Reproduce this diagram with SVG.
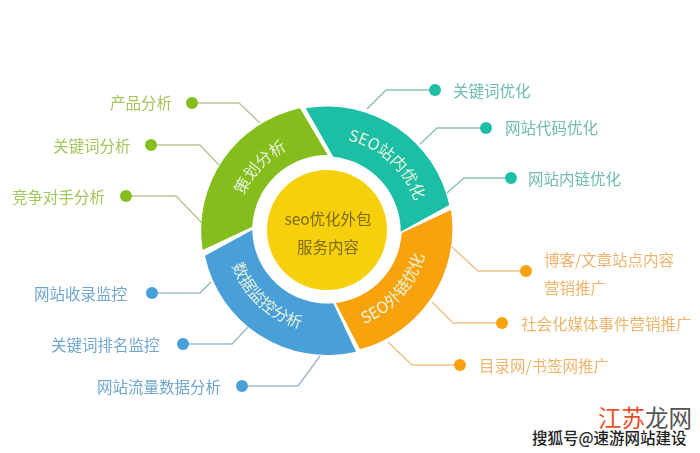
<svg xmlns="http://www.w3.org/2000/svg" width="700" height="453" viewBox="0 0 700 453">
<style>
text{font-family:"Noto Sans CJK SC","Liberation Sans",sans-serif;font-size:15.5px;dominant-baseline:central}
.c{fill:none;stroke-width:1.6}
.g{fill:#a3c65c}.gd{fill:#84bd1e}.gl{stroke:#b9c99c}
.t{fill:#6fbcb0}.td{fill:#1cbfa6}.tl{stroke:#8cc4ba}
.o{fill:#f0b56c}.od{fill:#f8a20a}.ol{stroke:#eec58c}
.b{fill:#6fa6d0}.bd{fill:#4a9fd8}.bl{stroke:#a3bccb}
.a{fill:#e6f3dc;font-size:16px;dominant-baseline:alphabetic}
.m{fill:#7d6a10;text-anchor:middle}
</style>
<defs>
<filter id="s" x="-5%" y="-5%" width="110%" height="110%"><feGaussianBlur stdDeviation="0.45"/></filter>
<path id="pg" d="M237 233.4A91 91 0 0 1 324.6 140"/>
<path id="pt" d="M300.3 141.9A93 93 0 0 1 417.5 252.4"/>
<path id="po" d="M309.6 330.5A102 102 0 0 0 421.9 196.3"/>
<path id="pb" d="M228.5 208.6A101 101 0 0 0 356.9 327.5"/>
</defs>
<rect width="700" height="453" fill="#fff"/>
<g id="connectors" filter="url(#s)">
<path class="c gl" d="M192 103H239L260 123"/>
<path class="c gl" d="M151 145H200L219 165"/>
<path class="c gl" d="M126 196H176L202 223"/>
<path class="c bl" d="M152 293H200L211 282"/>
<path class="c bl" d="M183 344H232L248 327"/>
<path class="c bl" d="M242 386H298L320 356"/>
<path class="c tl" d="M435 90H386L367 109"/>
<path class="c tl" d="M486 128H437L420 144"/>
<path class="c tl" d="M511 178H464L447 193"/>
<path class="c ol" d="M526 271H478L452 247"/>
<path class="c ol" d="M502 323H453L432 302"/>
<path class="c ol" d="M460 365H412L388 342"/>
</g>
<g filter="url(#s)">
<g id="seg-plan"><path class="gd" d="M300 108.3A125 125 0 0 0 202.7 250L252.3 226.7A75 75 0 0 1 327.7 155Z"/><text class="a" text-anchor="middle"><textPath href="#pg" startOffset="50%">策划分析</textPath></text></g>
<g id="seg-onsite"><path class="td" d="M305.7 108.3A125 125 0 0 1 449.3 205L400.7 231.7A75 75 0 0 0 333.3 156.7Z"/><text class="a" text-anchor="middle"><textPath href="#pt" startOffset="49%">SEO站内优化</textPath></text></g>
<g id="seg-offsite"><path class="od" d="M451 210A125 125 0 0 1 360 349.3L335.7 303A75 75 0 0 0 401.7 233Z"/><text class="a" text-anchor="middle"><textPath href="#po" startOffset="49%">SEO外链优化</textPath></text></g>
<g id="seg-monitor"><path class="bd" d="M356 351.7A125 125 0 0 1 205 255.7L252.3 230A75 75 0 0 0 333.3 303.3Z"/><text class="a" text-anchor="middle"><textPath href="#pb" startOffset="50%">数据监控分析</textPath></text></g>
<g id="center"><circle cx="327" cy="230" r="60" fill="#f7d008"/><text class="m" x="328" y="218">seo优化外包</text><text class="m" x="328" y="246">服务内容</text></g>
<g id="n1"><circle class="gd" cx="192" cy="103" r="6"/><text class="g" x="110" y="102">产品分析</text></g>
<g id="n2"><circle class="gd" cx="151" cy="145" r="6"/><text class="g" x="53" y="145">关键词分析</text></g>
<g id="n3"><circle class="gd" cx="126" cy="196" r="6"/><text class="g" x="12" y="196">竞争对手分析</text></g>
<g id="n4"><circle class="bd" cx="152" cy="293" r="6"/><text class="b" x="34" y="293">网站收录监控</text></g>
<g id="n5"><circle class="bd" cx="183" cy="344" r="6"/><text class="b" x="51" y="344">关键词排名监控</text></g>
<g id="n6"><circle class="bd" cx="242" cy="386" r="6"/><text class="b" x="97" y="386">网站流量数据分析</text></g>
<g id="n7"><circle class="td" cx="435" cy="90" r="6"/><text class="t" x="453" y="90">关键词优化</text></g>
<g id="n8"><circle class="td" cx="486" cy="128" r="6"/><text class="t" x="505" y="127">网站代码优化</text></g>
<g id="n9"><circle class="td" cx="511" cy="178" r="6"/><text class="t" x="528" y="178">网站内链优化</text></g>
<g id="n10"><circle class="od" cx="526" cy="271" r="6"/><text class="o" x="544" y="259">博客/文章站点内容</text><text class="o" x="544" y="287">营销推广</text></g>
<g id="n11"><circle class="od" cx="502" cy="323" r="6"/><text class="o" x="521" y="323">社会化媒体事件营销推广</text></g>
<g id="n12"><circle class="od" cx="460" cy="365" r="6"/><text class="o" x="479" y="365">目录网/书签网推广</text></g>
</g>
<g id="watermark">
<text x="598" y="417" style="font-size:23.5px" fill="#e8512a">江苏<tspan fill="#555">龙网</tspan></text>
<text x="532" y="437" style="font-size:15.5px;font-weight:500" fill="#222" stroke="#fff" stroke-width="2.5" paint-order="stroke">搜狐号@速游网站建设</text>
</g>
</svg>
